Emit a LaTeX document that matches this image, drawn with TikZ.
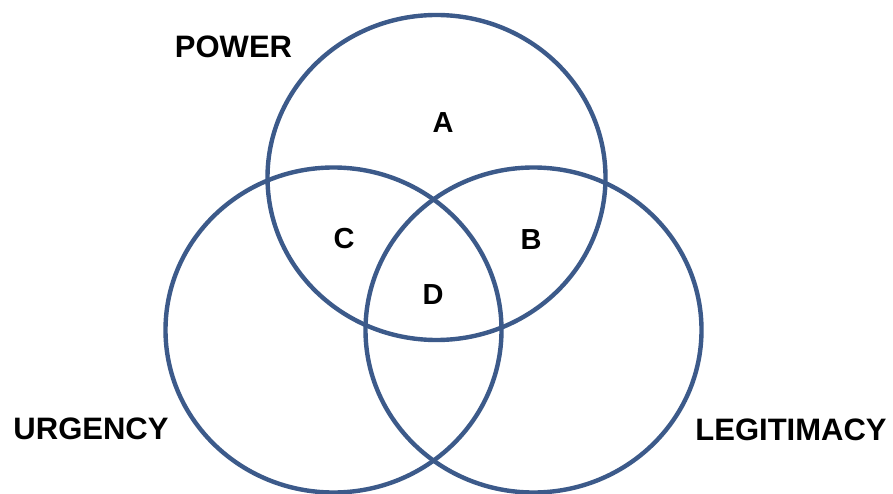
\documentclass[tikz,border=0pt]{standalone}
\usepackage{fontspec}
\setmainfont{Liberation Sans}
\definecolor{ringblue}{HTML}{3C5A8A}
\begin{document}
\begin{tikzpicture}[x=1pt,y=-1pt,
  ring/.style={draw=ringblue,line width=4.4pt},
  biglabel/.style={font=\bfseries\fontsize{31}{31}\selectfont,anchor=base,inner sep=0pt},
  smalllabel/.style={font=\bfseries\fontsize{29}{29}\selectfont,anchor=base,inner sep=0pt}]
\fill[white] (0,0) rectangle (893,494);
\useasboundingbox (0,0) rectangle (893,494);
\draw[ring] (436.5,177.5) ellipse [x radius=169pt, y radius=162.5pt];
\draw[ring] (333.5,330) ellipse [x radius=168pt, y radius=162.5pt];
\draw[ring] (533.5,330) ellipse [x radius=168pt, y radius=162.5pt];
\node[biglabel] (power) at (233.5,58) {POWER};
\node[biglabel] (urgency) at (91,439) {URGENCY};
\node[biglabel] (legit) at (791,440) {LEGITIMACY};
\node[smalllabel] (a) at (443,133) {A};
\node[smalllabel] (b) at (531,249) {B};
\node[smalllabel] (c) at (344,248) {C};
\node[smalllabel] (d) at (433,304) {D};
\end{tikzpicture}
\end{document}
